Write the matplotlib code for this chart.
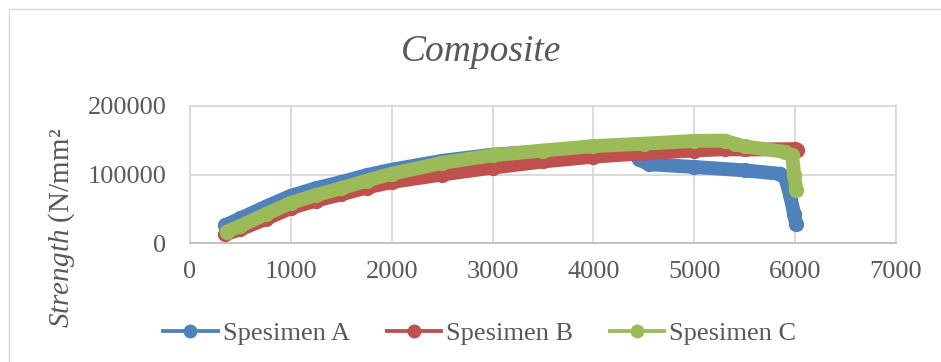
import matplotlib
matplotlib.use("Agg")
import matplotlib.pyplot as plt
from matplotlib.lines import Line2D
from matplotlib.patches import Rectangle

plt.rcParams['font.family'] = ['Liberation Serif', 'DejaVu Serif']
plt.rcParams['mathtext.fontset'] = 'custom'
plt.rcParams['mathtext.rm'] = 'Liberation Serif'
plt.rcParams['mathtext.it'] = 'Liberation Serif:italic'

# values
a_x = [350, 500, 750, 1000, 1250, 1500, 1750, 2000, 2500, 3000, 3500, 4000, 4380,
       4450, 4550, 5000, 5500, 5850, 5900, 5950, 5990, 6010]
a_y = [26000, 36000, 53000, 69000, 80000, 89000, 99000, 107000, 120000, 129000, 134000,
       137000, 138000, 122000, 115000, 111000, 106000, 101000, 96000, 70000, 42000, 28000]

b_x = [350, 500, 750, 1000, 1250, 1500, 1750, 2000, 2500, 3000, 3500, 4000, 4500,
       5000, 5300, 5500, 6000, 6020]
b_y = [13000, 20000, 35000, 51000, 62000, 71000, 81000, 89000, 100000, 110000, 119000,
       126000, 131000, 135000, 137000, 136500, 137000, 136000]

c_x = [363, 500, 750, 1000, 1250, 1500, 1750, 2000, 2500, 3000, 3500, 4000, 4500,
       5000, 5300, 5400, 5500, 5900, 5970, 5990, 6010]
c_y = [16500, 25000, 42000, 58500, 70000, 80000, 91000, 101000, 117000, 128000, 135000,
       141500, 145000, 149000, 149500, 145000, 141000, 133000, 128000, 100000, 78000]

series = [("Spesimen A", a_x, a_y, "#4F81BD"),
          ("Spesimen B", b_x, b_y, "#C0504D"),
          ("Spesimen C", c_x, c_y, "#9BBB59")]

x_ticks = [0, 1000, 2000, 3000, 4000, 5000, 6000, 7000]
y_ticks = [0, 100000, 200000]

fig = plt.figure(figsize=(9.41, 3.62), dpi=100)
fig.patches.append(Rectangle((9 / 941, -0.1), 1.2, 1 - 9 / 362 + 0.1, transform=fig.transFigure,
                             fill=False, edgecolor="#D9D9D9", linewidth=1))
ax = fig.add_axes([190 / 941, 1 - 243 / 362, 706 / 941, 137 / 362])

handles = []
for name, xs, ys, col in series:
    ax.plot(xs, ys, color=col, lw=10, marker='o', ms=10, solid_capstyle='round',
            solid_joinstyle='round', zorder=3)
    handles.append(Line2D([], [], color=col, lw=2.75, marker='o', ms=9, label=name))

ax.set_xlim(0, 7000)
ax.set_ylim(0, 200000)
ax.set_xticks(x_ticks)
ax.set_yticks(y_ticks)
ax.grid(True, color="#D9D9D9", lw=1.3)
ax.set_axisbelow(True)
for s in ax.spines.values():
    s.set_color("#D9D9D9")
    s.set_linewidth(1.3)
ax.spines['bottom'].set_color("#BFBFBF")
ax.tick_params(axis='both', length=0, labelsize=19, labelcolor="#595959")
ax.tick_params(axis='x', pad=13)
ax.tick_params(axis='y', pad=17)

fig.text(481 / 941, 1 - 52 / 362, "Composite", fontsize=27, style='italic',
         color="#595959", ha='center', va='center')
fig.text(62 / 941, 1 - 228 / 362, r"$\mathit{Strength}$ (N/mm²", fontsize=21,
         color="#595959", rotation=90, ha='center', va='center')

fig.legend(handles=handles, loc='center', bbox_to_anchor=(480 / 941, 1 - 333 / 362), ncol=3,
           frameon=False, fontsize=19, handlelength=2.05, handletextpad=0.2,
           columnspacing=1.4, labelcolor="#595959")

fig.savefig("out.png", dpi=100)
